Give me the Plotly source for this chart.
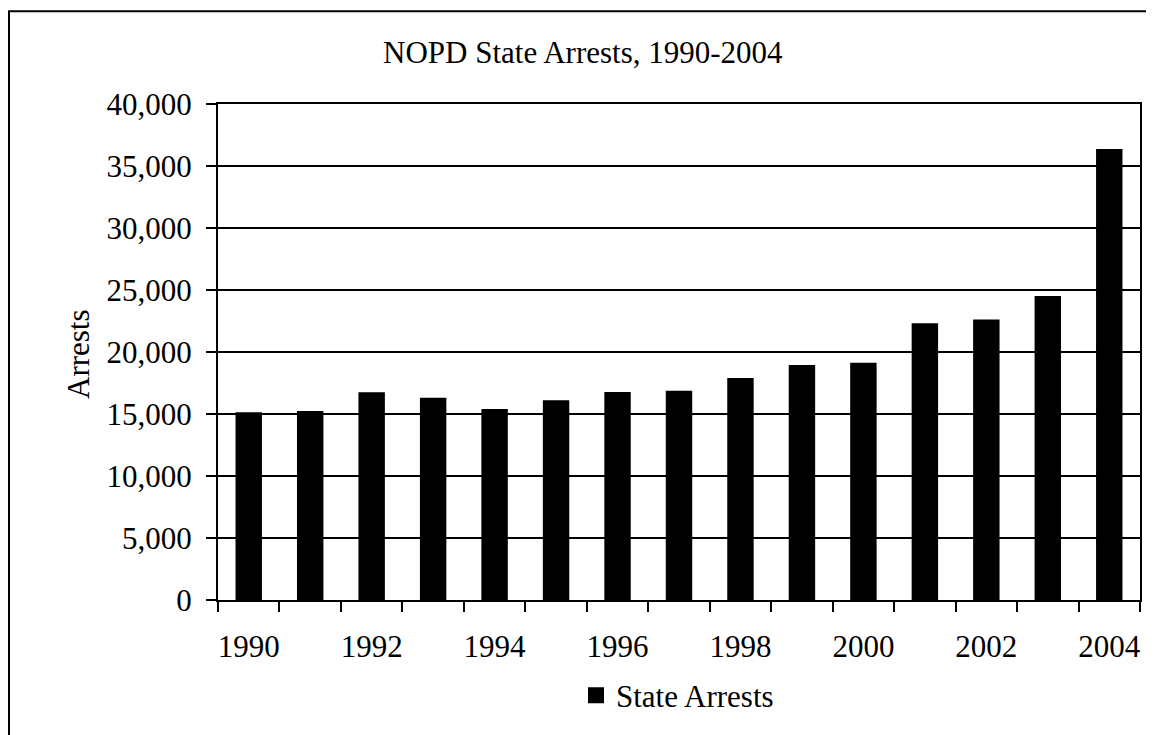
import plotly.graph_objects as go

years = [1990, 1991, 1992, 1993, 1994, 1995, 1996, 1997, 1998, 1999, 2000, 2001, 2002, 2003, 2004]
arrests = [15150, 15250, 16750, 16320, 15410, 16110, 16780, 16880, 17900, 18950, 19130, 22320, 22620, 24520, 36370]
y_ticks = [0, 5000, 10000, 15000, 20000, 25000, 30000, 35000, 40000]
x_label_years = [1990, 1992, 1994, 1996, 1998, 2000, 2002, 2004]
title_text = "NOPD State Arrests, 1990-2004"
series_name = "State Arrests"
y_title = "Arrests"

FONT = "Liberation Serif"
FS = 31

OFF = 8  # page body margin
W, H = 1154 - OFF, 735 - OFF
PL, PR, PT, PB = 218, 1140, 104, 602  # plot area in page pixels
L = PL - OFF
R = W - (PR - OFF)
T = PT - OFF
B = H - (PB - OFF)
pw = W - L - R
ph = H - T - B

def px_x(p):
    return (p - OFF - L) / pw

def px_y(p):
    return (H - B - (p - OFF)) / ph

fig = go.Figure()
fig.add_trace(go.Bar(
    x=years, y=arrests, name=series_name, width=0.43,
    marker=dict(color="black", line=dict(width=0)),
    showlegend=False, legendgroup="sa",
))
# legend entry with a larger square swatch for the same series
fig.add_trace(go.Scatter(
    x=[None], y=[None], mode="markers", name=series_name, legendgroup="sa",
    marker=dict(symbol="square", size=20, color="black"),
    showlegend=True, hoverinfo="skip",
))

boundaries = [y - 0.5 for y in years] + [years[-1] + 0.5]

fig.update_layout(
    width=W, height=H,
    margin=dict(l=L, r=R, t=T, b=B, pad=0),
    paper_bgcolor="white", plot_bgcolor="white",
    font=dict(family=FONT, size=FS, color="black"),
    showlegend=True,
    legend=dict(
        orientation="h", x=px_x(576), xanchor="left", y=px_y(698), yanchor="middle",
        font=dict(family=FONT, size=FS, color="black"), bgcolor="rgba(0,0,0,0)",
        itemsizing="trace",
    ),
    bargap=0.57,
    xaxis=dict(
        range=[years[0] - 0.5, years[-1] + 0.5],
        tickvals=x_label_years, ticktext=[str(v) for v in x_label_years],
        ticks="", showgrid=False, zeroline=False,
        showline=True, linecolor="black", linewidth=2, mirror=True,
        ticklabelstandoff=18,
        tickfont=dict(family=FONT, size=FS, color="black"),
        minor=dict(tickvals=boundaries, ticks="outside", ticklen=10, tickwidth=2,
                   tickcolor="black", showgrid=False),
    ),
    yaxis=dict(
        range=[0, 40000], tickvals=y_ticks, tickformat=",d",
        ticks="outside", ticklen=10, tickwidth=2, tickcolor="black",
        showgrid=True, gridcolor="black", gridwidth=2, zeroline=False,
        showline=True, linecolor="black", linewidth=2, mirror=True,
        ticklabelstandoff=8,
        tickfont=dict(family=FONT, size=FS, color="black"),
    ),
    shapes=[dict(
        type="rect", xref="paper", yref="paper",
        x0=px_x(9), x1=px_x(1170), y0=px_y(760), y1=px_y(11),
        line=dict(color="black", width=2), fillcolor="rgba(0,0,0,0)", layer="above",
    )],
    annotations=[
        dict(text=title_text, xref="paper", yref="paper", x=px_x(583), y=px_y(52),
             xanchor="center", yanchor="middle", showarrow=False,
             font=dict(family=FONT, size=FS, color="black")),
        dict(text=y_title, xref="paper", yref="paper", x=px_x(79), y=px_y(355),
             xanchor="center", yanchor="middle", showarrow=False, textangle=-90,
             font=dict(family=FONT, size=FS, color="black")),
    ],
)

fig.write_html("out.html")
